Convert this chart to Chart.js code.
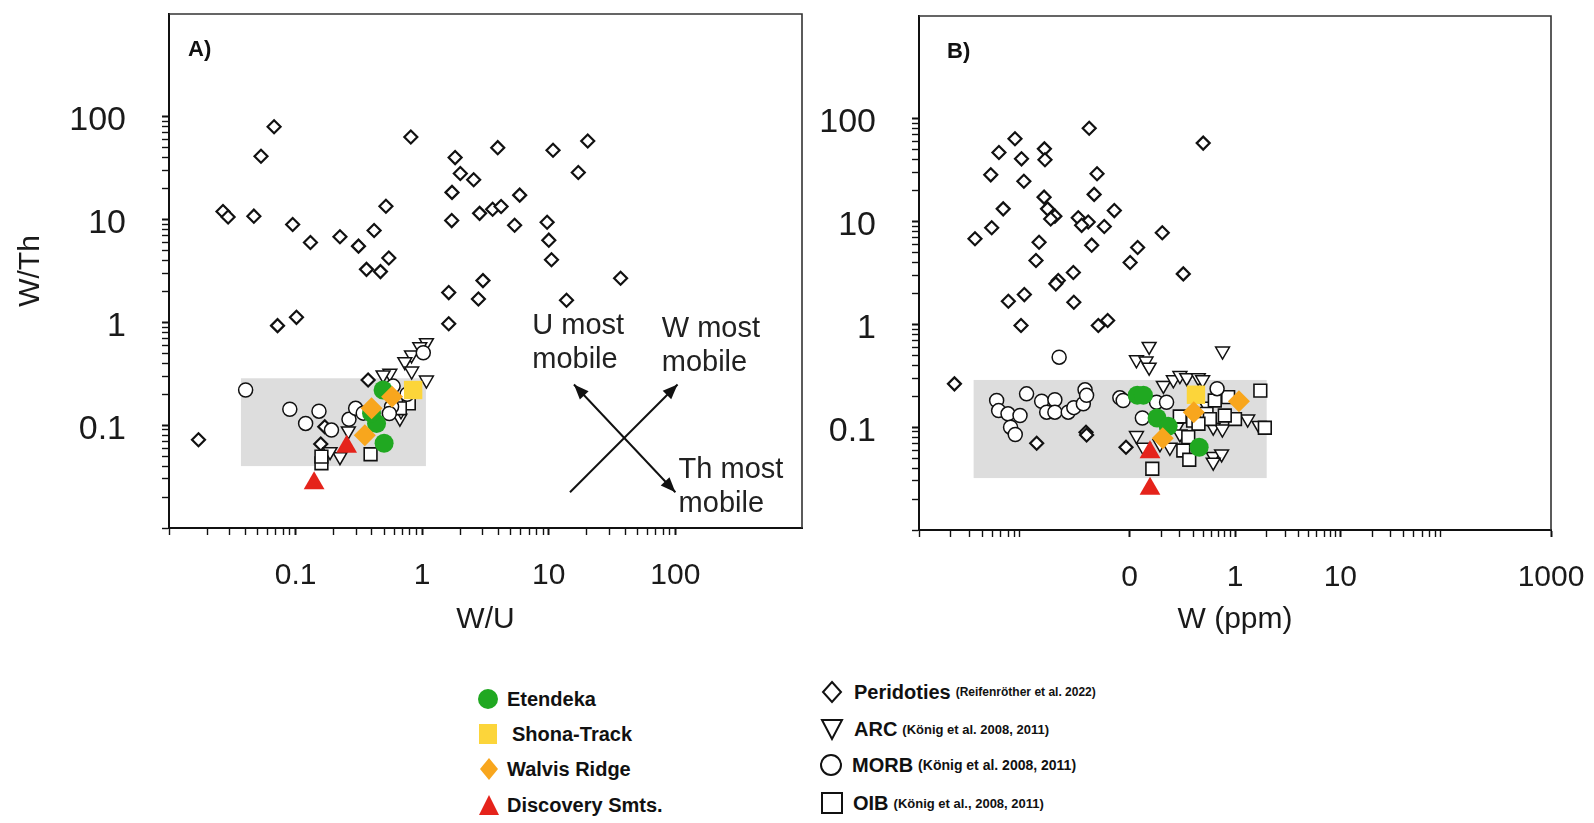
<!DOCTYPE html>
<html>
<head>
<meta charset="utf-8">
<script src="https://cdn.jsdelivr.net/npm/chart.js@4.4.1/dist/chart.umd.min.js"></script>
<style>
  body { margin: 0; background: #fff; width: 1594px; height: 823px; position: relative; overflow: hidden;
         font-family: "Liberation Sans", Arial, Helvetica, sans-serif; color: #111; }
  #chartA { position: absolute; left: 0; top: 0; }
  #chartB { position: absolute; left: 820px; top: 0; }
  .row { position: absolute; height: 24px; display: flex; align-items: center; white-space: nowrap; }
  .row svg { flex: none; }
  .name { font-weight: bold; font-size: 20px; }
  .ref { font-weight: bold; font-size: 13px; }
</style>
</head>
<body>
<canvas id="chartA" width="820" height="650"></canvas>
<canvas id="chartB" width="774" height="650"></canvas>

<!-- legend -->
<div class="row" style="left:476px;top:687px"><svg width="24" height="24"><circle cx="12" cy="12" r="10" fill="#20a821"/></svg><span class="name" style="margin-left:7px">Etendeka</span></div>
<div class="row" style="left:476px;top:722px"><svg width="24" height="24"><rect x="3" y="2" width="18" height="20" fill="#fcd53a"/></svg><span class="name" style="margin-left:12px">Shona-Track</span></div>
<div class="row" style="left:477px;top:757px"><svg width="24" height="24"><polygon points="12,1 21,12 12,23 3,12" fill="#f8a61d"/></svg><span class="name" style="margin-left:6px">Walvis Ridge</span></div>
<div class="row" style="left:477px;top:793px"><svg width="24" height="24"><polygon points="12,2 22,22 2,22" fill="#e5231b"/></svg><span class="name" style="margin-left:6px">Discovery Smts.</span></div>

<div class="row" style="left:820px;top:680px"><svg width="24" height="24"><polygon points="12,2 21,12 12,22 3,12" fill="none" stroke="#111" stroke-width="2"/></svg><span class="name" style="margin-left:10px">Peridoties</span><span class="ref" style="margin-left:5px;font-size:12px">(Reifenröther et al. 2022)</span></div>
<div class="row" style="left:820px;top:717px"><svg width="24" height="24"><polygon points="2,3 22,3 12,22" fill="none" stroke="#111" stroke-width="2"/></svg><span class="name" style="margin-left:10px">ARC</span><span class="ref" style="margin-left:5px">(König et al. 2008, 2011)</span></div>
<div class="row" style="left:819px;top:753px"><svg width="24" height="24"><circle cx="12" cy="12" r="10" fill="none" stroke="#111" stroke-width="2"/></svg><span class="name" style="margin-left:9px">MORB</span><span class="ref" style="margin-left:5px;font-size:14px">(König et al. 2008, 2011)</span></div>
<div class="row" style="left:820px;top:791px"><svg width="24" height="24"><rect x="2" y="2" width="20" height="20" fill="none" stroke="#111" stroke-width="2"/></svg><span class="name" style="margin-left:9px">OIB</span><span class="ref" style="margin-left:5px">(König et al., 2008, 2011)</span></div>

<script>
// ---- panel A: W/Th vs W/U ----
const etendekaA = [[0.491, 0.22], [0.436, 0.104], [0.398, 0.131], [0.50, 0.0667]];
const shonaA = [[0.848, 0.22]];
const walvisA = [[0.398, 0.146], [0.578, 0.189], [0.352, 0.080]];
const discoveryA = [[0.253, 0.0618], [0.140, 0.0272]];
const peridotitesA = [
  [0.0171, 0.0721], [0.0267, 12.0], [0.0293, 10.6], [0.0468, 10.8], [0.0533, 41.3], [0.0676, 80],
  [0.072, 0.93], [0.1016, 1.12], [0.0948, 8.95], [0.131, 5.99], [0.224, 6.8], [0.314, 5.52],
  [0.363, 3.28], [0.417, 7.83], [0.468, 3.12], [0.517, 13.5], [0.545, 4.23], [0.813, 63.6],
  [1.62, 0.97], [1.62, 1.95], [1.71, 9.78], [1.72, 18.4], [1.82, 40.1], [2.0, 28.1], [2.55, 24.4],
  [2.78, 1.69], [3.02, 2.55], [2.84, 11.5], [3.6, 12.6], [4.2, 13.4], [3.95, 50.1], [5.37, 8.81],
  [5.89, 17.3], [9.7, 9.42], [10, 6.31], [10.5, 4.07], [10.8, 47.2], [13.8, 1.64], [17.1, 28.7],
  [20.3, 58.2], [36.9, 2.69], [0.374, 0.275], [0.158, 0.0656], [0.170, 0.0966]
];
const arcA = [
  [1.08, 0.635], [0.957, 0.581], [0.823, 0.482], [0.729, 0.415], [1.08, 0.275], [0.555, 0.32],
  [0.491, 0.308], [0.666, 0.117], [0.224, 0.0494], [0.187, 0.0553], [0.826, 0.336], [0.68, 0.138],
  [0.261, 0.088]
];
const morbA = [
  [0.0403, 0.22], [0.090, 0.143], [0.153, 0.137], [0.12, 0.104], [0.192, 0.0897], [0.264, 0.114],
  [0.298, 0.146], [0.589, 0.24], [1.02, 0.507], [0.342, 0.131], [0.573, 0.151], [0.76, 0.2], [0.55, 0.13]
];
const oibA = [[0.16, 0.0426], [0.16, 0.0494], [0.391, 0.0522], [0.784, 0.163], [0.666, 0.146]];
const fieldA = [0.037, 1.07, 0.04, 0.286];   // xmin, xmax, ymin, ymax of the grey field

// ---- panel B: W/Th vs W (ppm) ----
const etendekaB = [[0.118, 0.205], [0.135, 0.205], [0.182, 0.123], [0.232, 0.102], [0.457, 0.0638]];
const shonaB = [[0.426, 0.207]];
const walvisB = [[0.406, 0.14], [1.09, 0.179], [0.206, 0.078]];
const discoveryB = [[0.156, 0.057], [0.156, 0.0252]];
const peridotitesB = [
  [0.0413, 81], [0.499, 58], [0.00815, 64], [0.00574, 47], [0.0094, 40.8], [0.0155, 51], [0.0157, 40],
  [0.0048, 28.5], [0.0099, 24.7], [0.049, 29.2], [0.0154, 17.3], [0.046, 18.4], [0.0063, 13.3],
  [0.0166, 13.3], [0.0195, 11.3], [0.0178, 10.6], [0.0715, 12.8], [0.0325, 10.9], [0.0404, 9.9],
  [0.035, 9.2], [0.0574, 8.96], [0.0049, 8.7], [0.0034, 6.8], [0.204, 7.8], [0.0138, 6.3],
  [0.0436, 5.9], [0.119, 5.6], [0.101, 4.0], [0.0129, 4.19], [0.0292, 3.2], [0.021, 2.67],
  [0.0199, 2.48], [0.323, 3.1], [0.01, 1.95], [0.00705, 1.68], [0.0295, 1.64], [0.0093, 0.975],
  [0.0618, 1.09], [0.0504, 0.975], [0.00217, 0.264], [0.0131, 0.0699], [0.0385, 0.0894],
  [0.039, 0.084], [0.0923, 0.0638]
];
const arcB = [
  [0.153, 0.61], [0.762, 0.55], [0.116, 0.453], [0.143, 0.44], [0.153, 0.384], [0.209, 0.255],
  [0.26, 0.289], [0.30, 0.318], [0.348, 0.303], [0.448, 0.303], [0.493, 0.289], [0.116, 0.083],
  [0.135, 0.0638], [0.194, 0.069], [0.241, 0.0638], [0.621, 0.0519], [0.746, 0.055], [0.621, 0.0457],
  [0.621, 0.1], [0.759, 0.096], [1.32, 0.12], [1.69, 0.104], [0.28, 0.1], [0.30, 0.086], [0.537, 0.16]
];
const morbB = [
  [0.0214, 0.48], [0.00546, 0.182], [0.0057, 0.145], [0.0070, 0.135], [0.0091, 0.13], [0.0074, 0.1],
  [0.0082, 0.085], [0.0105, 0.211], [0.0146, 0.179], [0.0195, 0.185], [0.0163, 0.14], [0.0195, 0.14],
  [0.0261, 0.14], [0.0295, 0.155], [0.0363, 0.169], [0.0377, 0.231], [0.039, 0.204], [0.0807, 0.193],
  [0.0868, 0.182], [0.18, 0.175], [0.224, 0.175], [0.132, 0.123], [0.676, 0.237]
];
const oibB = [
  [1.74, 0.227], [1.92, 0.0987], [0.164, 0.0394], [0.323, 0.0593], [0.368, 0.0482], [0.299, 0.127],
  [0.40, 0.116], [0.643, 0.182], [0.861, 0.196], [1.0, 0.12], [0.80, 0.13], [0.537, 0.135],
  [0.36, 0.08], [0.577, 0.12], [0.45, 0.108]
];
const fieldB = [0.0033, 2.0, 0.032, 0.288];

// ---- axes ----
const yDecades = [-2, -1, 0, 1];
const yLabelValues = [0.1, 1, 10, 100];
const yLabelText = ['0.1', '1', '10', '100'];
const xDecadesA = [-2, -1, 0, 1];
const xLabelValuesA = [0.1, 1, 10, 100];
const xLabelTextA = ['0.1', '1', '10', '100'];
const xDecadesB = [-3, -1, 0, 1];
const xLabelValuesB = [0.1, 1, 10, 1000];
const xLabelTextB = ['0', '1', '10', '1000'];

// arrows and notes in panel A (data coordinates)
const mobilityArrows = [
  { from: [14.7, 0.0223], to: [104, 0.249], heads: [false, true] },
  { from: [15.8, 0.249], to: [100, 0.0223], heads: [true, true] }
];
const mobilityNotes = [
  { at: [7.4, 0.92], lines: ['U most', 'mobile'] },
  { at: [78, 0.87], lines: ['W most', 'mobile'] },
  { at: [106, 0.0366], lines: ['Th most', 'mobile'] }
];

const FONT = '"Liberation Sans", Arial, Helvetica, sans-serif';
const INK = '#1a1a1a';

function tickList(decades, extra) {
  const out = [];
  decades.forEach(e => {
    for (let m = 1; m <= 9; m++) out.push(Number((m * Math.pow(10, e)).toPrecision(6)));
  });
  return out.concat(extra);
}

function sameValue(a, b) { return Math.abs(Math.log10(a) - Math.log10(b)) < 1e-6; }

function logAxis(opts) {
  const ticks = tickList(opts.decades, opts.extra);
  return {
    type: 'logarithmic',
    position: opts.position,
    min: opts.min,
    max: opts.max,
    afterBuildTicks: scale => {
      scale.ticks = ticks.map(v => ({ value: v, major: opts.labelValues.some(l => sameValue(l, v)) }));
    },
    afterFit: scale => {
      // fixed box size, and no extra room reserved for edge labels
      opts.fit(scale);
      scale.paddingTop = 0; scale.paddingBottom = 0;
      scale.paddingLeft = 0; scale.paddingRight = 0;
    },
    border: { display: true, color: '#111', width: 2 },
    grid: {
      display: true, drawOnChartArea: false, drawTicks: true, tickLength: 7,
      tickColor: '#111', tickWidth: ctx => (ctx.tick && ctx.tick.major ? 2 : 1.4)
    },
    ticks: {
      autoSkip: false, maxRotation: 0, minRotation: 0, padding: opts.padding,
      labelOffset: opts.labelOffset || 0,
      color: INK, font: { family: FONT, size: opts.fontSize },
      callback: v => {
        const k = opts.labelValues.findIndex(l => sameValue(l, v));
        return k >= 0 ? opts.labelText[k] : '';
      }
    },
    title: opts.title
      ? { display: true, text: opts.title, color: INK, font: { family: FONT, size: 30 }, padding: opts.titlePadding }
      : { display: false }
  };
}

function pointSet(label, pts, style) {
  return Object.assign({ label, data: pts.map(p => ({ x: p[0], y: p[1] })) }, style);
}

const styles = {
  etendeka: { pointStyle: 'circle', radius: 9.5, backgroundColor: '#20a821', borderWidth: 0 },
  shona: { pointStyle: 'rect', radius: 13, backgroundColor: '#fcd53a', borderWidth: 0 },
  walvis: { pointStyle: 'rectRot', radius: 11, backgroundColor: '#f8a61d', borderWidth: 0 },
  discovery: { pointStyle: 'triangle', radius: 12, backgroundColor: '#e5231b', borderWidth: 0 },
  peridotites: { pointStyle: 'rectRot', radius: 6.5, backgroundColor: '#fff', borderColor: '#111', borderWidth: 2.2 },
  arc: { pointStyle: 'triangle', rotation: 180, radius: 8, backgroundColor: '#fff', borderColor: '#111', borderWidth: 1.5 },
  morb: { pointStyle: 'circle', radius: 7, backgroundColor: '#fff', borderColor: '#111', borderWidth: 1.5 },
  oib: { pointStyle: 'rect', radius: 9, backgroundColor: '#fff', borderColor: '#111', borderWidth: 1.6 }
};

function arrowHead(ctx, x, y, angle) {
  const len = 15, half = 6;
  ctx.beginPath();
  ctx.moveTo(x, y);
  ctx.lineTo(x - len * Math.cos(angle) + half * Math.sin(angle), y - len * Math.sin(angle) - half * Math.cos(angle));
  ctx.lineTo(x - len * Math.cos(angle) - half * Math.sin(angle), y - len * Math.sin(angle) + half * Math.cos(angle));
  ctx.closePath();
  ctx.fill();
}

const panelDecor = {
  id: 'panelDecor',
  beforeDatasetsDraw(chart, args, opts) {
    const { ctx, scales: { x, y } } = chart;
    const f = opts.field;
    const x0 = x.getPixelForValue(f[0]), x1 = x.getPixelForValue(f[1]);
    const y0 = y.getPixelForValue(f[3]), y1 = y.getPixelForValue(f[2]);
    ctx.save();
    ctx.fillStyle = '#dddddd';
    ctx.fillRect(x0, y0, x1 - x0, y1 - y0);
    ctx.restore();
  },
  afterDraw(chart, args, opts) {
    const { ctx, chartArea: a, scales: { x, y } } = chart;
    ctx.save();
    // top and right frame lines
    ctx.strokeStyle = '#333';
    ctx.lineWidth = 1.6;
    ctx.beginPath();
    ctx.moveTo(a.left, a.top);
    ctx.lineTo(a.right, a.top);
    ctx.lineTo(a.right, a.bottom);
    ctx.stroke();
    // panel letter
    ctx.fillStyle = '#111';
    ctx.font = 'bold 22px ' + FONT;
    ctx.textBaseline = 'middle';
    ctx.textAlign = 'left';
    ctx.fillText(opts.letter, a.left + opts.letterDx, a.top + 36);
    // mobility arrows
    (opts.arrows || []).forEach(ar => {
      const p0 = [x.getPixelForValue(ar.from[0]), y.getPixelForValue(ar.from[1])];
      const p1 = [x.getPixelForValue(ar.to[0]), y.getPixelForValue(ar.to[1])];
      const ang = Math.atan2(p1[1] - p0[1], p1[0] - p0[0]);
      ctx.strokeStyle = '#111';
      ctx.fillStyle = '#111';
      ctx.lineWidth = 2;
      ctx.beginPath();
      ctx.moveTo(p0[0], p0[1]);
      ctx.lineTo(p1[0], p1[1]);
      ctx.stroke();
      if (ar.heads[0]) arrowHead(ctx, p0[0], p0[1], ang + Math.PI);
      if (ar.heads[1]) arrowHead(ctx, p1[0], p1[1], ang);
    });
    ctx.font = '29px ' + FONT;
    ctx.fillStyle = '#222';
    (opts.notes || []).forEach(n => {
      const px = x.getPixelForValue(n.at[0]), py = y.getPixelForValue(n.at[1]);
      n.lines.forEach((t, i) => ctx.fillText(t, px, py + i * 34));
    });
    ctx.restore();
  }
};

function makePanel(id, sets, axes, decor, pad) {
  return new Chart(document.getElementById(id), {
    type: 'scatter',
    data: { datasets: sets },
    options: {
      responsive: false,
      animation: false,
      layout: { autoPadding: false, padding: { left: 0, top: pad.top, right: pad.right, bottom: 0 } },
      plugins: { legend: { display: false }, tooltip: { enabled: false }, panelDecor: decor },
      scales: axes
    },
    plugins: [panelDecor]
  });
}

function seriesFor(e, s, w, d, per, arc, morb, oib) {
  // first dataset is drawn on top
  return [
    pointSet('Discovery Smts.', d, styles.discovery),
    pointSet('Walvis Ridge', w, styles.walvis),
    pointSet('Shona-Track', s, styles.shona),
    pointSet('Etendeka', e, styles.etendeka),
    pointSet('MORB', morb, styles.morb),
    pointSet('OIB', oib, styles.oib),
    pointSet('ARC', arc, styles.arc),
    pointSet('Peridoties', per, styles.peridotites)
  ];
}

makePanel('chartA',
  seriesFor(etendekaA, shonaA, walvisA, discoveryA, peridotitesA, arcA, morbA, oibA),
  {
    x: logAxis({ position: 'bottom', min: 0.01, max: 1000, decades: xDecadesA, extra: [100],
      labelValues: xLabelValuesA, labelText: xLabelTextA, padding: 23, fontSize: 30,
      title: 'W/U', titlePadding: { top: 0, bottom: 12 }, fit: s => { s.height = 122; } }),
    y: logAxis({ position: 'left', min: 0.01, max: 1000, decades: yDecades, extra: [100],
      labelValues: yLabelValues, labelText: yLabelText, padding: 36, fontSize: 34, labelOffset: 4,
      title: 'W/Th', titlePadding: { top: 13, bottom: 0 }, fit: s => { s.width = 169; } })
  },
  { letter: 'A)', letterDx: 19, field: fieldA, arrows: mobilityArrows, notes: mobilityNotes },
  { top: 14, right: 18 });

makePanel('chartB',
  seriesFor(etendekaB, shonaB, walvisB, discoveryB, peridotitesB, arcB, morbB, oibB),
  {
    x: logAxis({ position: 'bottom', min: 0.001, max: 1000, decades: xDecadesB, extra: [1000],
      labelValues: xLabelValuesB, labelText: xLabelTextB, padding: 23, fontSize: 30,
      title: 'W (ppm)', titlePadding: { top: 0, bottom: 12 }, fit: s => { s.height = 120; } }),
    y: logAxis({ position: 'left', min: 0.01, max: 1000, decades: yDecades, extra: [100],
      labelValues: yLabelValues, labelText: yLabelText, padding: 36, fontSize: 34, labelOffset: 4,
      title: null, fit: s => { s.width = 99; } })
  },
  { letter: 'B)', letterDx: 28, field: fieldB },
  { top: 16, right: 43 });
</script>
</body>
</html>
